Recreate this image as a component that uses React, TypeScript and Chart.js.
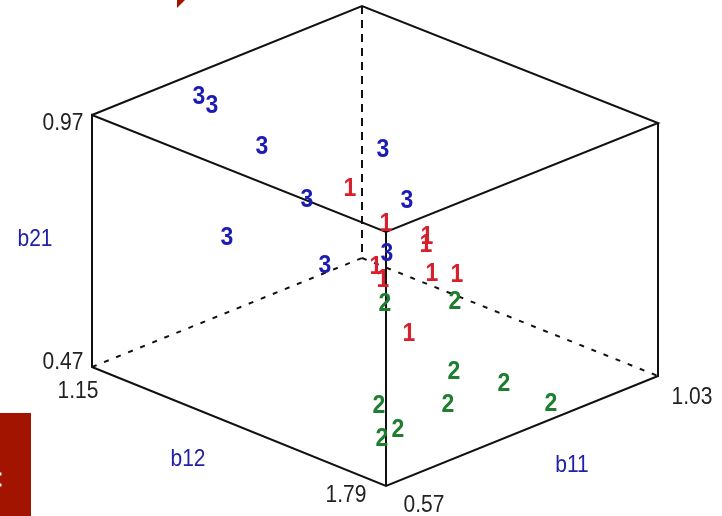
import React, { useEffect, useRef } from "react";
import { Chart, registerables } from "chart.js";

Chart.register(...registerables);

// Projected plot coordinates
const class3X = [199, 212, 262, 383, 307, 407, 227, 387, 325];
const class3Y = [95, 104, 145, 148, 198, 199, 236, 252, 264];
const class1X = [350, 386, 427, 426, 376, 383, 432, 457, 409];
const class1Y = [187, 222, 235, 243, 265, 278, 272, 273, 332];
const class2X = [385, 455, 454, 504, 448, 551, 379, 398, 382];
const class2Y = [302, 300, 370, 382, 403, 402, 404, 428, 437];

const solidEdges: [number, number][][] = [
  [[92, 115], [362, 6], [658, 123], [386, 232], [92, 115], [92, 367], [386, 486], [658, 376], [658, 123]],
  [[386, 232], [386, 486]],
];
const dashedEdges: [number, number][][] = [
  [[362, 6], [362, 258]],
  [[92, 367], [362, 258]],
  [[362, 258], [658, 376]],
];

const tickLabels = ["0.97", "0.47", "1.15", "1.79", "0.57", "1.03"];
const tickX = [63, 63, 78, 346, 424, 692];
const tickY = [122, 361, 390, 494, 504, 396];
const axisLabels = ["b21", "b12", "b11"];
const axisX = [35, 188, 572];
const axisY = [238, 458, 464];

const rectPolygon: [number, number][] = [[0, 413], [31, 413], [31, 516], [0, 516], [0, 413]];
const wedgePolygon: [number, number][] = [[177, 0], [185, 0], [177, 8], [177, 0]];
const rectDots: [number, number][] = [[0, 474], [0, 485]];

const RED = "#d8202c";
const BLUE = "#1c1cb4";
const GREEN = "#1f7d2f";
const BRICK = "#a31400";

const toPts = (p: [number, number][]) => p.map(([x, y]) => ({ x, y }));
const zip = (xs: number[], ys: number[]) => xs.map((x, i) => ({ x, y: ys[i] }));

const textPlugin = {
  id: "textMarks",
  afterDatasetsDraw(chart: any) {
    const ctx = chart.ctx;
    ctx.textAlign = "center";
    ctx.textBaseline = "middle";
    chart.data.datasets.forEach((ds: any, di: number) => {
      if (!ds.textMarks) return;
      ctx.font = ds.textFont;
      ctx.fillStyle = ds.textColor;
      chart.getDatasetMeta(di).data.forEach((el: any, i: number) => {
        ctx.save();
        ctx.translate(el.x, el.y + 2);
        ctx.scale(1, ds.textStretch);
        ctx.fillText(ds.textMarks[i], 0, 0);
        ctx.restore();
      });
    });
  },
};

const DIGIT_FONT = 'bold 23px "Liberation Sans", Arial, sans-serif';
const LABEL_FONT = '21px "Liberation Sans", Arial, sans-serif';

export default function App() {
  const ref = useRef<HTMLCanvasElement>(null);
  useEffect(() => {
    const edge = (pts: [number, number][], dash: number[], width: number) => ({
      type: "line" as const,
      data: toPts(pts),
      borderColor: "#111111",
      borderWidth: width,
      borderDash: dash,
      pointRadius: 0,
      tension: 0,
      fill: false,
    });
    const poly = (pts: [number, number][]) => ({
      type: "line" as const,
      data: toPts(pts),
      borderColor: BRICK,
      borderWidth: 0,
      backgroundColor: BRICK,
      pointRadius: 0,
      tension: 0,
      fill: "shape",
    });
    const marks = (data: any[], text: string[], color: string, font: string, stretch: number) => ({
      type: "scatter" as const,
      data,
      pointRadius: 0,
      textMarks: text,
      textColor: color,
      textFont: font,
      textStretch: stretch,
    });
    const chart = new Chart(ref.current!, {
      type: "scatter",
      data: {
        datasets: [
          {
            type: "scatter" as const,
            data: toPts(rectDots),
            pointRadius: 2,
            pointStyle: "rect",
            backgroundColor: "#ffffff",
            borderWidth: 0,
          },
          poly(rectPolygon),
          poly(wedgePolygon),
          ...solidEdges.map((e) => edge(e, [], 2)),
          edge(dashedEdges[0], [8, 6], 2),
          edge(dashedEdges[1], [5, 8], 2),
          edge(dashedEdges[2], [5, 8], 2),
          marks(zip(class2X, class2Y), class2X.map(() => "2"), GREEN, DIGIT_FONT, 1.15),
          marks(zip(class1X, class1Y), class1X.map(() => "1"), RED, DIGIT_FONT, 1.15),
          marks(zip(class3X, class3Y), class3X.map(() => "3"), BLUE, DIGIT_FONT, 1.15),
          marks(zip(tickX, tickY), tickLabels, "#222222", LABEL_FONT, 1.12),
          marks(zip(axisX, axisY), axisLabels, "#2020a8", LABEL_FONT, 1.12),
        ] as any,
      },
      plugins: [textPlugin],
      options: {
        animation: false,
        responsive: false,
        layout: { padding: 0, autoPadding: false },
        clip: false,
        plugins: { legend: { display: false }, tooltip: { enabled: false } },
        scales: {
          x: { type: "linear", min: 0, max: 722, display: false },
          y: { type: "linear", min: 0, max: 516, reverse: true, display: false },
        },
      } as any,
    });
    return () => chart.destroy();
  }, []);
  return (
    <canvas
      ref={ref}
      width={722}
      height={516}
      style={{ position: "absolute", left: 0, top: 0, width: 722, height: 516, background: "#ffffff" }}
    />
  );
}
